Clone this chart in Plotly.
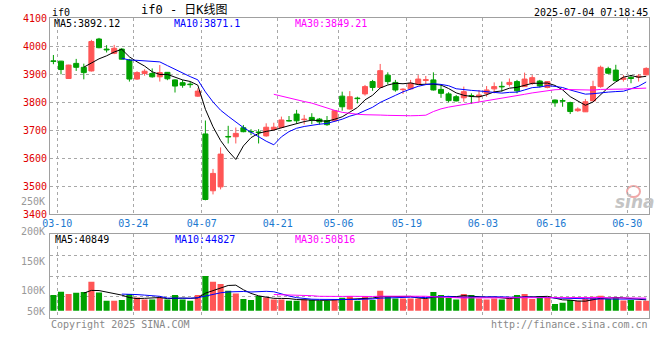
import pandas as pd
import plotly.graph_objects as go

W, H = 660, 360

dates = ["03-07",
         "03-10", "03-11", "03-12", "03-13", "03-14",
         "03-17", "03-18", "03-19", "03-20", "03-21",
         "03-24", "03-25", "03-26", "03-27", "03-28",
         "03-31", "04-01", "04-02", "04-03",
         "04-07", "04-08", "04-09", "04-10", "04-11",
         "04-14", "04-15", "04-16", "04-17", "04-18",
         "04-21", "04-22", "04-23", "04-24", "04-25",
         "04-28", "04-29", "04-30",
         "05-06", "05-07", "05-08", "05-09",
         "05-12", "05-13", "05-14", "05-15", "05-16",
         "05-19", "05-20", "05-21", "05-22", "05-23",
         "05-26", "05-27", "05-28", "05-29", "05-30",
         "06-03", "06-04", "06-05", "06-06",
         "06-09", "06-10", "06-11", "06-12", "06-13",
         "06-16", "06-17", "06-18", "06-19", "06-20",
         "06-23", "06-24", "06-25", "06-26", "06-27",
         "06-30", "07-01", "07-02"]

open_ = [3948, 3947, 3885, 3939, 3925, 3912, 4026, 3990, 3975, 3990,
         3951, 3883, 3903, 3903, 3891, 3907, 3880, 3870, 3865, 3822,
         3687, 3484, 3498, 3678, 3677, 3709, 3696, 3694, 3680, 3703,
         3710, 3735, 3758, 3738, 3746, 3740, 3735, 3734, 3822, 3776,
         3815, 3830, 3874, 3853, 3897, 3871, 3845, 3848, 3865, 3878,
         3880, 3846, 3830, 3820, 3816, 3824, 3820, 3832, 3848, 3857,
         3864, 3874, 3856, 3868, 3876, 3853, 3808, 3806, 3799, 3770,
         3766, 3805, 3856, 3920, 3915, 3882, 3889, 3890, 3898]
high = [3969, 3948, 3934, 3955, 3938, 4023, 4030, 4004, 4005, 3993,
        3955, 3911, 3918, 3921, 3933, 3908, 3882, 3880, 3874, 3850,
        3735, 3562, 3639, 3716, 3710, 3719, 3704, 3704, 3725, 3727,
        3749, 3751, 3773, 3755, 3761, 3744, 3751, 3772, 3838, 3840,
        3820, 3862, 3880, 3937, 3907, 3880, 3850, 3880, 3897, 3894,
        3907, 3862, 3836, 3826, 3856, 3832, 3844, 3858, 3871, 3874,
        3885, 3880, 3906, 3897, 3880, 3876, 3810, 3814, 3802, 3782,
        3812, 3877, 3931, 3927, 3934, 3897, 3898, 3901, 3925]
low = [3936, 3900, 3884, 3912, 3882, 3910, 3993, 3978, 3972, 3953,
       3874, 3880, 3895, 3888, 3874, 3879, 3835, 3852, 3852, 3820,
       3450, 3471, 3489, 3653, 3653, 3693, 3683, 3653, 3677, 3699,
       3707, 3731, 3725, 3721, 3722, 3720, 3716, 3732, 3770, 3774,
       3796, 3824, 3841, 3852, 3864, 3838, 3830, 3846, 3863, 3865,
       3842, 3816, 3800, 3803, 3802, 3794, 3802, 3820, 3832, 3838,
       3856, 3832, 3855, 3862, 3853, 3850, 3784, 3784, 3758, 3766,
       3766, 3805, 3852, 3901, 3876, 3874, 3868, 3874, 3897]
close = [3946, 3917, 3933, 3925, 3906, 4017, 3995, 3987, 3993, 3954,
         3883, 3906, 3911, 3891, 3906, 3884, 3858, 3861, 3863, 3840,
         3453, 3546, 3615, 3676, 3689, 3695, 3694, 3692, 3711, 3711,
         3737, 3733, 3734, 3740, 3737, 3730, 3720, 3770, 3784, 3820,
         3813, 3856, 3853, 3913, 3874, 3844, 3847, 3868, 3883, 3881,
         3844, 3832, 3806, 3805, 3838, 3822, 3826, 3844, 3856, 3855,
         3871, 3841, 3883, 3888, 3858, 3874, 3798, 3804, 3767, 3776,
         3802, 3856, 3925, 3904, 3877, 3887, 3885, 3894, 3921]
volume = [59700, 72200, 63500, 68400, 71000, 110200, 69500, 38000, 38000, 40700,
          63500, 50000, 43000, 43000, 50500, 43000, 59700, 43000, 38000, 59700,
          131900, 110200, 101500, 76000, 65700, 44500, 40700, 55900, 50500, 43000,
          43000, 38000, 38000, 43000, 40700, 38000, 38000, 44500, 49400, 55900,
          38000, 55900, 40700, 76000, 55900, 46700, 46700, 46700, 46700, 44500,
          71100, 59700, 49400, 43000, 63500, 59700, 46700, 43000, 46700, 43000,
          50500, 59700, 63500, 44500, 55900, 49400, 25500, 30400, 40700, 38000,
          46700, 53200, 57000, 44500, 50000, 38500, 41000, 38000, 37500]

tick_labels = ["03-10", "03-24", "04-07", "04-21", "05-06",
               "05-19", "06-03", "06-16", "06-30"]
price_ticks = [3400, 3500, 3600, 3700, 3800, 3900, 4000, 4100]
vol_labels = ["250K", "200K", "150K", "100K", "50K"]

header_left = "if0"
title_text = "if0 - 日K线图"
timestamp = "2025-07-04 07:18:45"
ma_price_text = ["MA5:3892.12", "MA10:3871.1", "MA30:3849.21"]
ma_vol_text = ["MA5:40849", "MA10:44827", "MA30:50816"]
copyright_text = "Copyright 2025 SINA.COM"
url_text = "http://finance.sina.com.cn"

# ---------------- styling / layout constants ----------------
UP, DOWN = "#ff5555", "#00a000"
MA_COLORS = ["#000000", "#0000ff", "#ff00ff"]
GRID = "#a8a8a8"
FRAME = "#a0a0a0"
FONT = "DejaVu Sans Mono, Noto Sans CJK SC, monospace"

PLOT_L, PLOT_R = 50.0, 649.3
P_TOP, P_BOT = 18.3, 214.3
V_TOP, V_BOT = 234.3, 317.5
X0_PX, X_STEP = 53.4, 7.6          # pixel of first slot centre, slot width
SLOT_OFF = 3.7 / X_STEP           # grid line sits at slot's left edge
VOL_PX = 3800.0                   # volume units per pixel
VOL_BASE_PX = 310.7               # pixel row of volume zero


def px(xp):
    return xp / W


def py(yp):
    return 1 - yp / H


n = len(dates)
idx = list(range(n))
x_range = [(PLOT_L - X0_PX) / X_STEP, (PLOT_R - X0_PX) / X_STEP]
tick_x = [dates.index(t) - SLOT_OFF for t in tick_labels]
vol_range = [-(V_BOT - VOL_BASE_PX) * VOL_PX, (VOL_BASE_PX - V_TOP) * VOL_PX]
vol_grid_px = [255.0, 276.0, 296.7]
vol_grid = [(VOL_BASE_PX - g) * VOL_PX for g in vol_grid_px]

is_up = [c >= o for o, c in zip(open_, close)]
colors = [UP if u else DOWN for u in is_up]

fig = go.Figure()

# wicks
for flag, col in ((True, UP), (False, DOWN)):
    wx, wy = [], []
    for i in idx:
        if is_up[i] == flag:
            wx += [i, i, None]
            wy += [low[i], high[i], None]
    fig.add_trace(go.Scatter(x=wx, y=wy, mode="lines",
                             line=dict(color=col, width=1),
                             xaxis="x", yaxis="y", hoverinfo="skip"))

# bodies
fig.add_trace(go.Bar(x=idx,
                     y=[abs(c - o) for o, c in zip(open_, close)],
                     base=[min(o, c) for o, c in zip(open_, close)],
                     width=0.66,
                     marker=dict(color=colors, line=dict(color=colors, width=1)),
                     xaxis="x", yaxis="y", hoverinfo="skip"))

# price moving averages
cs = pd.Series(close, dtype=float)
for win, col in zip((5, 10, 30), MA_COLORS):
    fig.add_trace(go.Scatter(x=idx, y=cs.rolling(win).mean(), mode="lines",
                             line=dict(color=col, width=1),
                             xaxis="x", yaxis="y", hoverinfo="skip"))

# volume bars
fig.add_trace(go.Bar(x=idx, y=volume, width=0.8,
                     marker=dict(color=colors, line=dict(width=0)),
                     xaxis="x2", yaxis="y2", hoverinfo="skip"))
vs = pd.Series(volume, dtype=float)
for win, col in zip((5, 10, 30), MA_COLORS):
    fig.add_trace(go.Scatter(x=idx, y=vs.rolling(win).mean(), mode="lines",
                             line=dict(color=col, width=1),
                             xaxis="x2", yaxis="y2", hoverinfo="skip"))

axis_common = dict(showline=True, linecolor=FRAME, linewidth=1, mirror=True,
                   showgrid=True, gridcolor=GRID, griddash="dot", gridwidth=1,
                   zeroline=False, ticks="", fixedrange=True, automargin=False)

fig.update_layout(
    template="none",
    width=W, height=H,
    margin=dict(l=0, r=0, t=0, b=0, pad=0),
    paper_bgcolor="white", plot_bgcolor="white",
    showlegend=False, barmode="overlay",
    font=dict(family=FONT, size=10, color="#000"),
    xaxis=dict(domain=[px(PLOT_L), px(PLOT_R)], range=x_range, anchor="y",
               tickmode="array", tickvals=tick_x, ticktext=tick_labels,
               tickfont=dict(family=FONT, size=10, color="#1a78d0"),
               **axis_common),
    yaxis=dict(domain=[py(P_BOT), py(P_TOP)], range=[3400, 4100], anchor="x",
               tickmode="array", tickvals=price_ticks,
               ticktext=[str(v) for v in price_ticks],
               tickfont=dict(family=FONT, size=10, color="#e00000"),
               **axis_common),
    xaxis2=dict(domain=[px(PLOT_L), px(PLOT_R)], range=x_range, anchor="y2",
                tickmode="array", tickvals=tick_x, showticklabels=False,
                **axis_common),
    yaxis2=dict(domain=[py(V_BOT), py(V_TOP)], range=vol_range, anchor="x2",
                tickmode="array", tickvals=vol_grid, showticklabels=False,
                **axis_common),
)

ann = []


def text(t, xp, yp, xanchor="left", color="#000", size=10, **kw):
    ann.append(dict(text=t, x=px(xp), y=py(yp), xref="paper", yref="paper",
                    xanchor=xanchor, yanchor="middle", showarrow=False,
                    font=dict(family=kw.pop("family", FONT), size=size, color=color),
                    **kw))


text(header_left, 50, 12.5)
text(title_text, 185, 10, xanchor="center", size=12)
text(timestamp, 649.5, 12.5, xanchor="right")
for t, xp, col in zip(ma_price_text, (52, 172, 293), MA_COLORS):
    text(t, xp, 24, color=col)
for t, xp, col in zip(ma_vol_text, (53, 173, 293), MA_COLORS):
    text(t, xp, 239, color=col)
for t, yp in zip(vol_labels, (201, 231, 261, 290, 311)):
    text(t, 47, yp, xanchor="right", color="#999999")
text(copyright_text, 49, 324, color="#888888")
text(url_text, 650, 324, xanchor="right", color="#888888")
# watermark
text("<b><i>sina</i></b>", 635, 202, xanchor="center", color="#c4c4c4", size=17,
     family="DejaVu Sans, sans-serif")
fig.update_layout(annotations=ann)
fig.add_shape(type="circle", xref="paper", yref="paper",
              x0=px(627), x1=px(640), y0=py(197), y1=py(186),
              line=dict(color="#f0a8a8", width=2), layer="below")

fig.write_html("out.html", config={"displayModeBar": False, "staticPlot": True},
               post_script="document.body.style.margin='0px';"
                           "document.body.style.overflow='hidden';")
